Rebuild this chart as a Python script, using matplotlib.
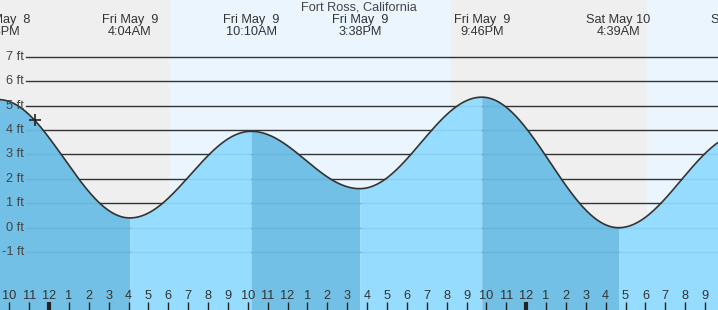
import numpy as np
import pandas as pd
from matplotlib import pyplot as plt

# tide extremes (local time) and heights in ft
tide_times = ["2025-05-08 21:28", "2025-05-09 04:04", "2025-05-09 10:10", "2025-05-09 15:38",
              "2025-05-09 21:46", "2025-05-10 04:39", "2025-05-10 10:55"]
tide_heights = [5.25, 0.4, 3.95, 1.6, 5.35, 0.0, 3.87]

# sunrise / sunset
sun_events = ["2025-05-09 06:05", "2025-05-09 20:14", "2025-05-10 06:05"]

y_ticks = [-1, 0, 1, 2, 3, 4, 5, 6, 7]
title = "Fort Ross, California"

start = pd.Timestamp("2025-05-09 00:00")
def hours(s):
	return (pd.Timestamp(s) - start).total_seconds() / 3600

t_ext = np.array([hours(s) for s in tide_times])
h_ext = np.array(tide_heights)
t_sun = [hours(s) for s in sun_events]

x_min, x_max = -2.465, 33.65
y_min, y_max = -3.373, 9.332

W, H = 718, 310
plt.rcParams['font.family'] = ['Liberation Sans', 'DejaVu Sans']
fig = plt.figure(figsize=(W / 100, H / 100), dpi=100)
ax = fig.add_axes([0, 0, 1, 1])
ax.set_xlim(x_min, x_max)
ax.set_ylim(y_min, y_max)
ax.axis("off")

fs = 9.2
night = "#efefef"
day = "#eaf5fe"
ebb = "#72c0e5"
flood = "#96dcfe"

# day / night background
edges = [x_min] + t_sun + [x_max]
for i in range(len(edges) - 1):
	ax.axvspan(edges[i], edges[i + 1], color=night if i % 2 == 0 else day, lw=0, zorder=0)

# grid lines above water
x0_grid = x_min + 26 / 19.88
for v in y_ticks:
	ax.plot([x0_grid, x_max], [v, v], color="#333333", lw=1, zorder=1)
	ax.text(x_min + 24 / 19.88, v, f"{v} ft", ha="right", va="center", fontsize=fs, color="#444444", zorder=5)

# cosine curve between extremes
ts, hs = [], []
for i in range(len(t_ext) - 1):
	t = np.linspace(t_ext[i], t_ext[i + 1], 120)
	f = (t - t_ext[i]) / (t_ext[i + 1] - t_ext[i])
	h = h_ext[i + 1] + (h_ext[i] - h_ext[i + 1]) * (1 + np.cos(np.pi * f)) / 2
	col = ebb if h_ext[i + 1] < h_ext[i] else flood
	poly = ax.fill_between(t, h, y_min, color=col, lw=0, zorder=2)
	for v in y_ticks:
		ln, = ax.plot([x0_grid, x_max], [v, v], color=(0.2, 0.4, 0.6, 0.12), lw=1, zorder=3)
		ln.set_clip_path(poly.get_paths()[0], poly.get_transform())
	ts.append(t)
	hs.append(h)
ax.plot(np.concatenate(ts), np.concatenate(hs), color="#333333", lw=1.2, zorder=4)

# current time marker
ax.plot(-0.7, 4.41, marker="+", color="#222222", ms=9, mew=1.2, zorder=5)

# top labels
tr = ax.get_xaxis_transform()
ax.text(0.5, 1 - 7.5 / H, title, transform=ax.transAxes, ha="center", va="center",
	fontsize=fs, color="#444444")
for s, t in zip(tide_times, t_ext):
	ts_ = pd.Timestamp(s)
	line1 = f"{ts_.strftime('%a %b')} {ts_.day:>2d}"
	line2 = ts_.strftime("%I:%M%p").lstrip("0")
	ax.text(t, 1 - 20 / H, line1, transform=tr, ha="center", va="center", fontsize=fs, color="#333333")
	ax.text(t, 1 - 32 / H, line2, transform=tr, ha="center", va="center", fontsize=fs, color="#333333")

# hour ticks along the bottom
for hr in range(-2, 34):
	midnight = hr % 24 == 0
	ax.plot([hr, hr], [0, 8 / H], transform=tr, color="#222222", lw=3 if midnight else 1, zorder=6,
		solid_capstyle="butt")
	lab = (hr % 12) or 12
	ax.text(hr, 14 / H, str(lab), transform=tr, ha="center", va="center", fontsize=fs, color="#333333", zorder=6)

fig.savefig("out.png", dpi=100)
